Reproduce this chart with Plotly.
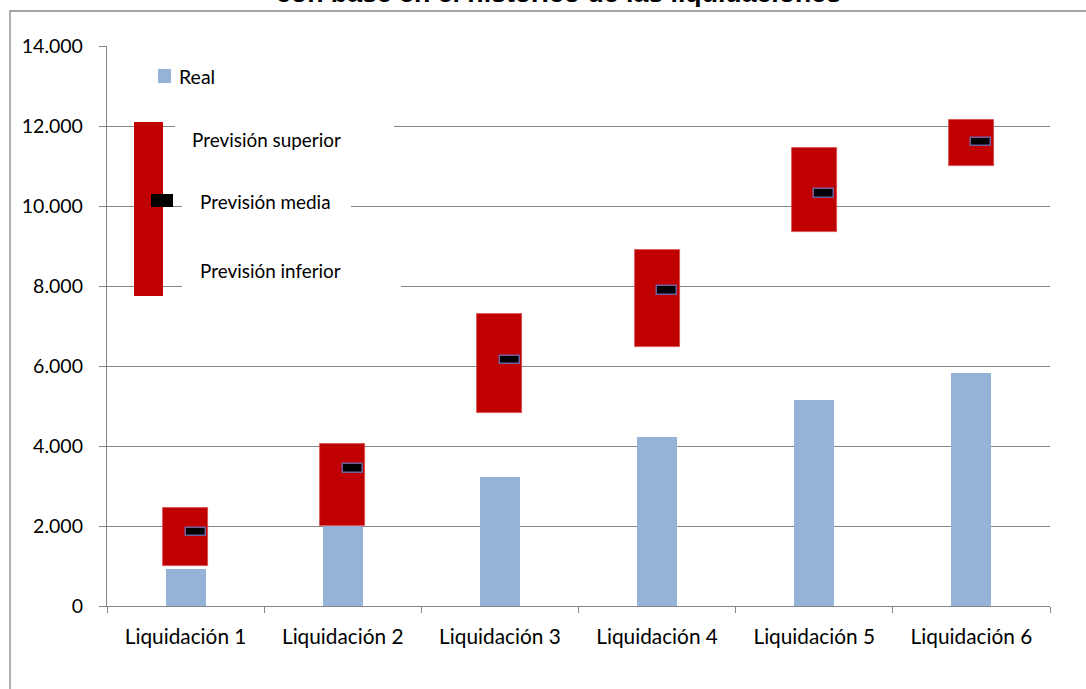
import plotly.graph_objects as go

# ---- data ----
categories = ["Liquidación 1", "Liquidación 2", "Liquidación 3",
              "Liquidación 4", "Liquidación 5", "Liquidación 6"]
real = [930, 2000, 3220, 4220, 5160, 5820]
prevision_inferior = [1010, 2000, 4820, 6480, 9350, 10990]
prevision_superior = [2460, 4040, 7290, 8910, 11440, 12140]
prevision_media = [1850, 3430, 6150, 7890, 10310, 11600]
y_tick_values = [0, 2000, 4000, 6000, 8000, 10000, 12000, 14000]
y_tick_labels = ["0", "2.000", "4.000", "6.000", "8.000", "10.000", "12.000", "14.000"]
title_text = "con base en el histórico de las liquidaciones"
legend_real = "Real"
legend_sup = "Previsión superior"
legend_med = "Previsión media"
legend_inf = "Previsión inferior"

# ---- styles ----
W, H = 1086, 689
L, R, T, B = 107, 1050, 46, 606   # plot area in pixels
BLUE = "#95B3D7"
RED = "#C00000"
GRID = "#868686"
FONT = "Lato"
FS = 19.5
MARK_H = 220  # thickness of the "media" dash in data units

def px(x):
    return (x - L) / (R - L)

def py(y):
    return (B - y) / (B - T)

fig = go.Figure()
fig.add_trace(go.Bar(x=categories, y=real, width=0.254,
                     marker=dict(color=BLUE, line=dict(width=0)),
                     showlegend=False, hoverinfo="skip"))
fig.add_trace(go.Bar(x=categories,
                     base=prevision_inferior,
                     y=[s - i for s, i in zip(prevision_superior, prevision_inferior)],
                     width=0.286,
                     marker=dict(color=RED, line=dict(width=0.8, color="#D84A4A")),
                     showlegend=False, hoverinfo="skip"))
fig.add_trace(go.Bar(x=categories,
                     base=[m - MARK_H / 2 for m in prevision_media],
                     y=[MARK_H] * len(prevision_media),
                     width=0.127, offset=0,
                     marker=dict(color="black", line=dict(width=1.5, color="#6E5F9E")),
                     showlegend=False, hoverinfo="skip"))

shapes = []
# chart-area frame (extends beyond the visible window right / bottom)
shapes.append(dict(type="rect", xref="paper", yref="paper",
                   x0=px(10), x1=px(1200), y0=py(800), y1=py(11),
                   line=dict(color=GRID, width=1.3), fillcolor="rgba(0,0,0,0)", layer="below"))
# legend: Real swatch
shapes.append(dict(type="rect", xref="paper", yref="paper",
                   x0=px(158), x1=px(171), y0=py(83), y1=py(69),
                   line=dict(width=0), fillcolor=BLUE, layer="above"))
# legend: white gaps hiding gridlines behind labels
for x0, x1, yc in [(175, 394, 126), (182, 351, 206), (182, 401, 286)]:
    shapes.append(dict(type="rect", xref="paper", yref="paper",
                       x0=px(x0), x1=px(x1), y0=py(yc + 4), y1=py(yc - 4),
                       line=dict(width=0), fillcolor="white", layer="above"))
# legend: red range bar and black dash
shapes.append(dict(type="rect", xref="paper", yref="paper",
                   x0=px(134), x1=px(163), y0=py(296), y1=py(122),
                   line=dict(width=0), fillcolor=RED, layer="above"))
shapes.append(dict(type="rect", xref="paper", yref="paper",
                   x0=px(151), x1=px(173), y0=py(207), y1=py(194),
                   line=dict(width=0), fillcolor="black", layer="above"))

LEG_FS = 18.9
annotations = [
    dict(text=legend_real, x=px(177), y=py(76), xref="paper", yref="paper",
         xanchor="left", yanchor="middle", showarrow=False,
         font=dict(family=FONT, size=FS, color="black")),
    dict(text=legend_sup, x=px(190), y=py(139), xref="paper", yref="paper",
         xanchor="left", yanchor="middle", showarrow=False,
         font=dict(family=FONT, size=LEG_FS, color="black")),
    dict(text=legend_med, x=px(198), y=py(201), xref="paper", yref="paper",
         xanchor="left", yanchor="middle", showarrow=False,
         font=dict(family=FONT, size=LEG_FS, color="black")),
    dict(text=legend_inf, x=px(198), y=py(270), xref="paper", yref="paper",
         xanchor="left", yanchor="middle", showarrow=False,
         font=dict(family=FONT, size=LEG_FS, color="black")),
    dict(text="<b>" + title_text + "</b>", x=px(558), y=py(10), xref="paper", yref="paper",
         xanchor="center", yanchor="bottom", showarrow=False,
         font=dict(family="Liberation Sans", size=26.7, color="black")),
]

fig.update_layout(
    width=W, height=H, autosize=False,
    margin=dict(l=L, r=W - R, t=T, b=H - B, pad=0),
    paper_bgcolor="white", plot_bgcolor="white",
    barmode="overlay", bargap=0,
    showlegend=False,
    shapes=shapes, annotations=annotations,
    xaxis=dict(type="category", range=[-0.5, 5.5], showgrid=False,
               showline=True, linecolor=GRID, linewidth=1.3,
               ticks="outside", ticklen=6, tickcolor=GRID, tickwidth=1.3,
               tickson="boundaries", ticklabelstandoff=12,
               tickfont=dict(family=FONT, size=20.8, color="black")),
    yaxis=dict(range=[0, 14000], tickvals=y_tick_values, ticktext=y_tick_labels,
               showgrid=True, gridcolor=GRID, gridwidth=1.3, zeroline=False,
               showline=True, linecolor=GRID, linewidth=1.3,
               ticks="outside", ticklen=7, tickcolor=GRID, tickwidth=1.3,
               ticklabelstandoff=12,
               tickfont=dict(family=FONT, size=FS, color="black")),
)

fig.write_html("out.html", config={"displayModeBar": False},
               post_script="document.body.style.margin='0px';")
